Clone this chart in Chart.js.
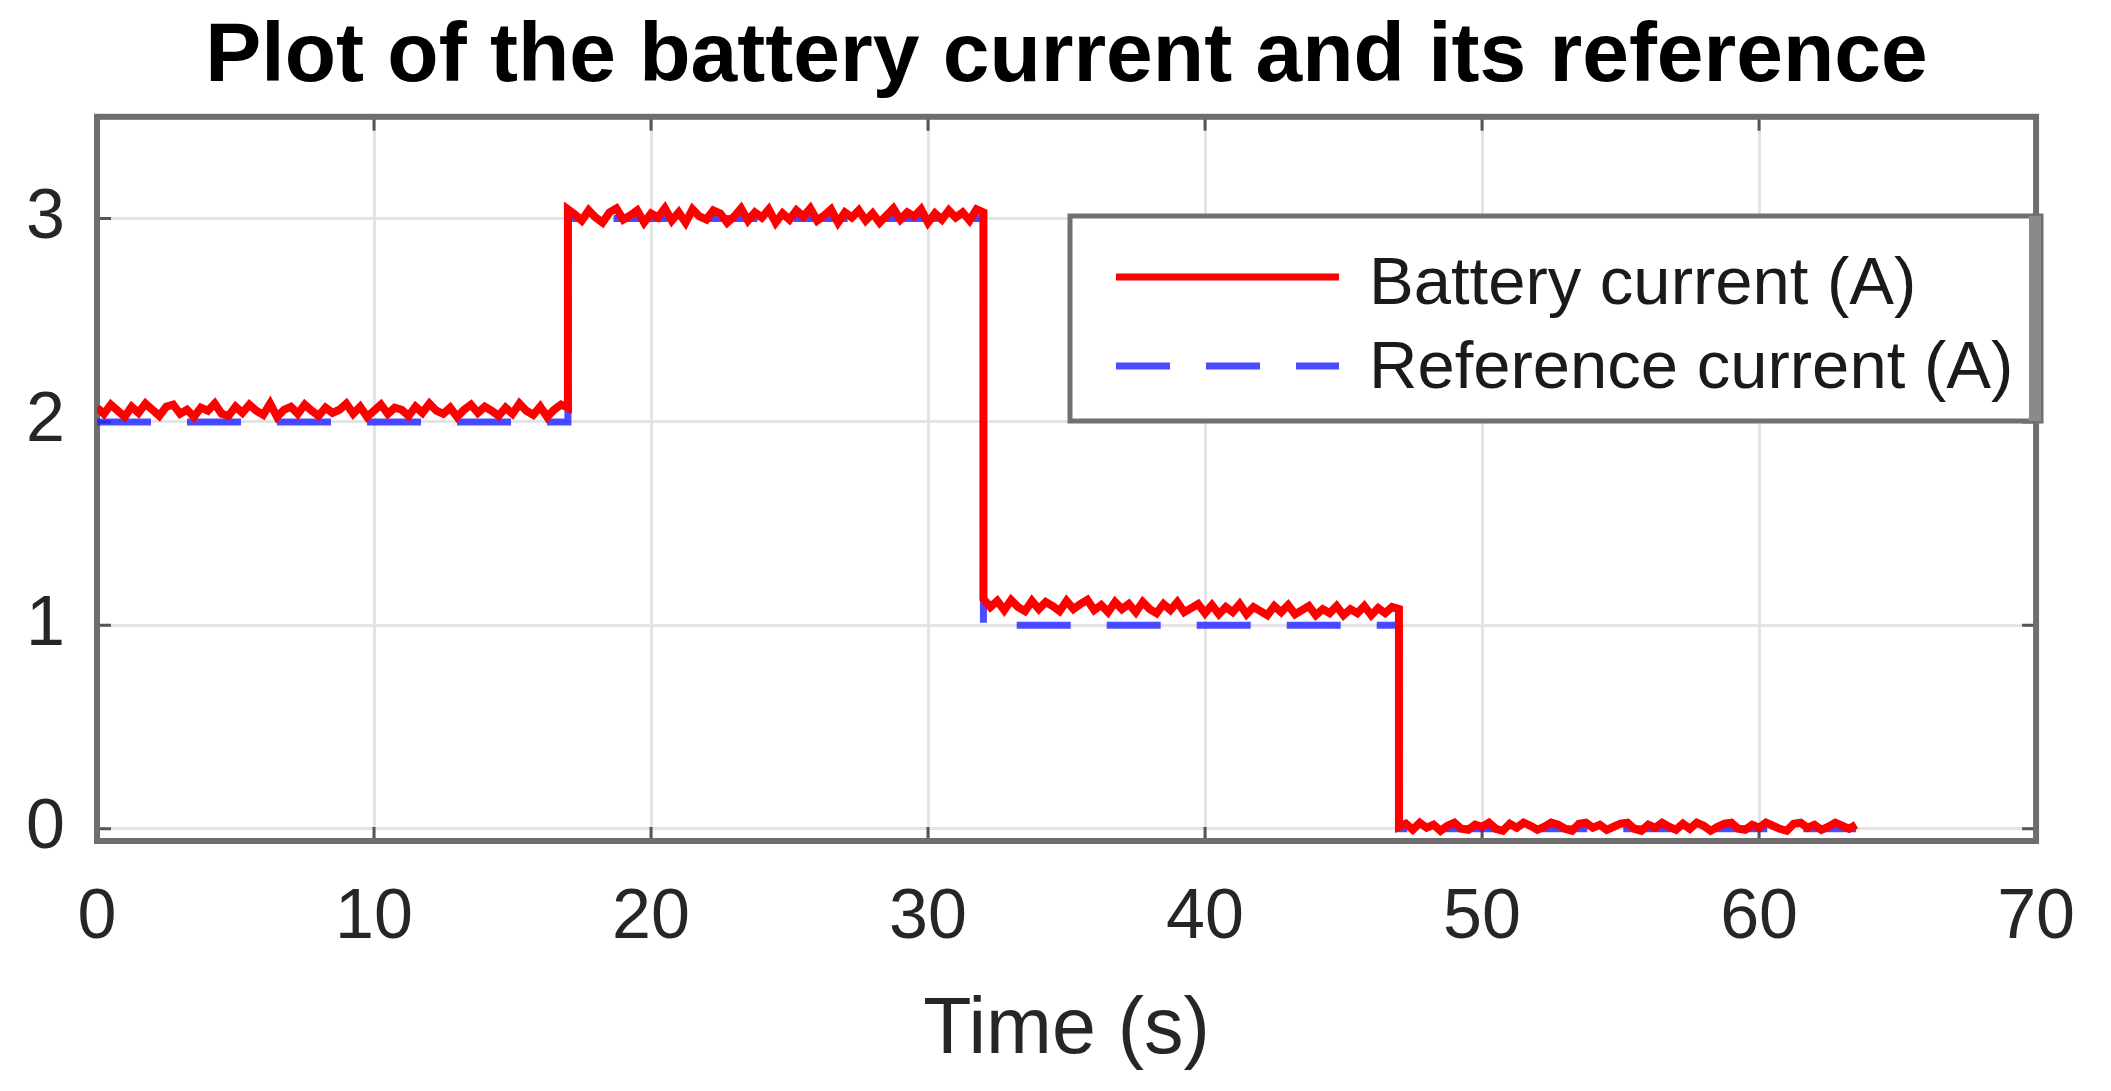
<!DOCTYPE html>
<html>
<head>
<meta charset="utf-8">
<script src="https://cdn.jsdelivr.net/npm/chart.js@4/dist/chart.umd.min.js"></script>
<style>
  html, body { margin: 0; padding: 0; background: #ffffff; }
  #wrap { width: 2111px; height: 1091px; position: relative; }
</style>
</head>
<body>
<div id="wrap"><canvas id="c"></canvas></div>
<script>
// ---- data ----
const batteryTime = [
  0,0.25,0.5,0.75,1,1.25,1.5,1.75,2,2.25,2.5,2.75,3,3.25,3.5,3.75,4,4.25,4.5,4.75,
  5,5.25,5.5,5.75,6,6.25,6.5,6.75,7,7.25,7.5,7.75,8,8.25,8.5,8.75,9,9.25,9.5,9.75,
  10,10.25,10.5,10.75,11,11.25,11.5,11.75,12,12.25,12.5,12.75,13,13.25,13.5,13.75,
  14,14.25,14.5,14.75,15,15.25,15.5,15.75,16,16.25,16.5,16.75,17,
  17,17.25,17.5,17.75,18,18.25,18.5,18.75,19,19.25,19.5,19.75,20,20.25,20.5,20.75,
  21,21.25,21.5,21.75,22,22.25,22.5,22.75,23,23.25,23.5,23.75,24,24.25,24.5,24.75,
  25,25.25,25.5,25.75,26,26.25,26.5,26.75,27,27.25,27.5,27.75,28,28.25,28.5,28.75,
  29,29.25,29.5,29.75,30,30.25,30.5,30.75,31,31.25,31.5,31.75,32,
  32,32.25,32.5,32.75,33,33.25,33.5,33.75,34,34.25,34.5,34.75,35,35.25,35.5,35.75,
  36,36.25,36.5,36.75,37,37.25,37.5,37.75,38,38.25,38.5,38.75,39,39.25,39.5,39.75,
  40,40.25,40.5,40.75,41,41.25,41.5,41.75,42,42.25,42.5,42.75,43,43.25,43.5,43.75,
  44,44.25,44.5,44.75,45,45.25,45.5,45.75,46,46.25,46.5,46.75,47,
  47,47.25,47.5,47.75,48,48.25,48.5,48.75,49,49.25,49.5,49.75,50,50.25,50.5,50.75,
  51,51.25,51.5,51.75,52,52.25,52.5,52.75,53,53.25,53.5,53.75,54,54.25,54.5,54.75,
  55,55.25,55.5,55.75,56,56.25,56.5,56.75,57,57.25,57.5,57.75,58,58.25,58.5,58.75,
  59,59.25,59.5,59.75,60,60.25,60.5,60.75,61,61.25,61.5,61.75,62,62.25,62.5,62.75,
  63,63.25,63.5
];
const batteryCurrent = [
  2.07,2.04,2.085,2.055,2.025,2.075,2.045,2.09,2.06,2.03,
  2.075,2.085,2.04,2.06,2.025,2.07,2.055,2.09,2.04,2.03,
  2.075,2.045,2.085,2.055,2.035,2.09,2.025,2.06,2.075,2.04,
  2.085,2.055,2.03,2.07,2.045,2.06,2.09,2.04,2.075,2.025,
  2.055,2.085,2.04,2.07,2.06,2.03,2.075,2.045,2.09,2.055,
  2.04,2.07,2.025,2.06,2.085,2.045,2.075,2.055,2.03,2.07,
  2.04,2.09,2.055,2.035,2.075,2.025,2.06,2.085,2.07,
  3.045,3.02,2.99,3.04,3.005,2.98,3.03,3.05,2.995,3.015,
  3.04,2.98,3.025,3.005,3.05,2.99,3.03,2.98,3.045,3.01,
  2.995,3.04,3.025,2.98,3.01,3.05,2.99,3.03,3.005,3.045,
  2.98,3.025,2.995,3.04,3.01,3.05,2.99,3.015,3.045,2.98,
  3.03,3.005,3.04,2.99,3.025,2.98,3.015,3.05,2.995,3.03,
  3.01,3.045,2.98,3.025,2.995,3.04,3.005,3.03,2.99,3.045,
  3.03,
  1.13,1.09,1.12,1.075,1.125,1.09,1.07,1.12,1.08,1.115,
  1.095,1.07,1.12,1.08,1.105,1.125,1.075,1.1,1.065,1.115,
  1.08,1.105,1.065,1.115,1.08,1.06,1.105,1.075,1.115,1.065,
  1.085,1.105,1.06,1.1,1.055,1.09,1.065,1.105,1.055,1.09,
  1.07,1.05,1.095,1.065,1.1,1.055,1.075,1.095,1.05,1.08,
  1.06,1.095,1.05,1.08,1.06,1.095,1.05,1.085,1.06,1.09,
  1.08,
  0.01,0.025,-0.005,0.03,0.005,0.02,-0.01,0.015,0.03,0.0,
  -0.005,0.02,0.01,0.03,0.0,-0.01,0.025,0.005,0.03,0.015,
  -0.005,0.01,0.03,0.02,0.0,-0.01,0.025,0.03,0.005,0.02,
  -0.005,0.01,0.025,0.03,0.0,-0.01,0.02,0.005,0.03,0.01,
  -0.005,0.025,0.0,0.03,0.015,-0.01,0.01,0.025,0.03,0.0,
  -0.005,0.02,0.005,0.03,0.015,0.0,-0.01,0.025,0.03,0.005,
  0.02,-0.005,0.01,0.03,0.015,0.0,0.02
];
const referenceTime    = [0, 17, 17, 32, 32, 47, 47, 63.5];
const referenceCurrent = [2, 2, 3, 3, 1, 1, 0, 0];
const xTickValues = [0, 10, 20, 30, 40, 50, 60, 70];
const yTickValues = [0, 1, 2, 3];
const seriesLabels = ['Battery current (A)', 'Reference current (A)'];
const chartTitle = 'Plot of the battery current and its reference';
const xAxisTitle = 'Time (s)';

// ---- styling ----
const FONT = '"Liberation Sans", Arial, Helvetica, sans-serif';
const AXIS_COLOR = '#6e6e6e';
const TEXT_COLOR = '#262626';

function toPoints(xs, ys) {
  const n = Math.min(xs.length, ys.length);
  const out = [];
  for (let i = 0; i < n; i++) out.push({ x: xs[i], y: ys[i] });
  return out;
}

const framePlugin = {
  id: 'frame',
  beforeDatasetsDraw(chart) {
    const { ctx, chartArea: a, scales } = chart;
    ctx.save();
    ctx.strokeStyle = '#555555';
    ctx.lineWidth = 3;
    const tl = 14;
    xTickValues.forEach(v => {
      const px = scales.x.getPixelForValue(v);
      ctx.beginPath();
      ctx.moveTo(px, a.bottom); ctx.lineTo(px, a.bottom - tl);
      ctx.moveTo(px, a.top); ctx.lineTo(px, a.top + tl);
      ctx.stroke();
    });
    yTickValues.forEach(v => {
      const py = scales.y.getPixelForValue(v);
      ctx.beginPath();
      ctx.moveTo(a.left, py); ctx.lineTo(a.left + tl, py);
      ctx.moveTo(a.right, py); ctx.lineTo(a.right - tl, py);
      ctx.stroke();
    });
    ctx.strokeStyle = AXIS_COLOR;
    ctx.lineWidth = 6;
    ctx.strokeRect(a.left, a.top, a.right - a.left, a.bottom - a.top);
    ctx.restore();
  }
};

const legendPlugin = {
  id: 'matlabLegend',
  afterDatasetsDraw(chart) {
    const { ctx } = chart;
    const box = { x: 1070, y: 216, w: 971, h: 205 };
    ctx.save();
    ctx.fillStyle = '#ffffff';
    ctx.fillRect(box.x, box.y, box.w, box.h);
    ctx.strokeStyle = '#707070';
    ctx.lineWidth = 5;
    ctx.strokeRect(box.x, box.y, box.w, box.h);
    ctx.fillStyle = '#8a8a8a';
    ctx.fillRect(box.x + box.w - 12, box.y, 12, box.h);
    const textRows = [286, 370];
    const lineRows = [277, 366];
    chart.data.datasets.forEach((ds, i) => {
      ctx.save();
      ctx.strokeStyle = ds.borderColor;
      ctx.lineWidth = 7;
      ctx.setLineDash(ds.borderDash || []);
      ctx.beginPath();
      ctx.moveTo(1116, lineRows[i]);
      ctx.lineTo(1339, lineRows[i]);
      ctx.stroke();
      ctx.restore();
      ctx.fillStyle = '#1a1a1a';
      ctx.font = '67px ' + FONT;
      ctx.textBaseline = 'middle';
      ctx.textAlign = 'left';
      ctx.fillText(ds.label, 1369, textRows[i]);
    });
    ctx.restore();
  }
};

new Chart(document.getElementById('c'), {
  type: 'line',
  data: {
    datasets: [
      {
        label: seriesLabels[0],
        data: toPoints(batteryTime, batteryCurrent),
        borderColor: '#ff0000',
        borderWidth: 8,
        pointRadius: 0,
        tension: 0,
        fill: false
      },
      {
        label: seriesLabels[1],
        data: toPoints(referenceTime, referenceCurrent),
        borderColor: 'rgba(30,30,255,0.8)',
        borderWidth: 7,
        borderDash: [54, 36],
        pointRadius: 0,
        tension: 0,
        fill: false
      }
    ]
  },
  options: {
    responsive: true,
    maintainAspectRatio: false,
    animation: false,
    layout: { padding: { left: 0, right: 61, top: 0, bottom: 0 } },
    plugins: {
      legend: { display: false },
      tooltip: { enabled: false },
      title: {
        display: true,
        fullSize: false,
        text: chartTitle,
        color: '#000000',
        font: { family: FONT, size: 84, weight: 'bold' },
        padding: { top: 7, bottom: 9 }
      }
    },
    scales: {
      x: {
        type: 'linear',
        min: 0,
        max: 70,
        afterBuildTicks: s => { s.ticks = xTickValues.map(v => ({ value: v })); },
        afterFit: s => { s.height = 250; },
        grid: { color: '#e4e4e4', lineWidth: 3, drawTicks: false },
        border: { display: false },
        ticks: {
          color: TEXT_COLOR,
          font: { family: FONT, size: 70 },
          padding: 36,
          maxRotation: 0,
          autoSkip: false
        },
        title: {
          display: true,
          text: xAxisTitle,
          color: TEXT_COLOR,
          font: { family: FONT, size: 79 },
          padding: { top: 0, bottom: 12 }
        }
      },
      y: {
        type: 'linear',
        min: -0.06,
        max: 3.5,
        afterBuildTicks: s => { s.ticks = yTickValues.map(v => ({ value: v })); },
        afterFit: s => { s.width = 97; },
        grid: { color: '#e4e4e4', lineWidth: 3, drawTicks: false },
        border: { display: false },
        ticks: {
          color: TEXT_COLOR,
          font: { family: FONT, size: 70 },
          padding: 32
        }
      }
    }
  },
  plugins: [framePlugin, legendPlugin]
});
</script>
</body>
</html>
